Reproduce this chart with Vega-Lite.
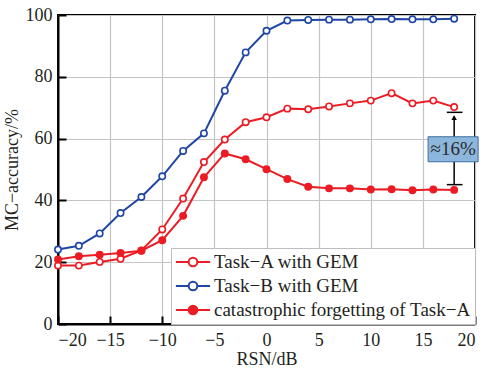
{
  "$schema": "https://vega.github.io/schema/vega-lite/v6.json",
  "width": 417,
  "height": 309,
  "autosize": {"type": "none"},
  "padding": {"left": 58, "top": 15, "right": 8, "bottom": 46},
  "background": "white",
  "config": {
    "font": "Times New Roman, Liberation Serif, serif",
    "view": {"stroke": "black", "strokeWidth": 2},
    "axis": {
      "domainColor": "black", "domainWidth": 2,
      "tickColor": "black", "tickWidth": 2, "tickSize": -8,
      "gridColor": "#c4c4c4", "gridWidth": 1.2,
      "labelFont": "Times New Roman, Liberation Serif, serif", "labelFontSize": 18, "labelColor": "#231f20",
      "titleFont": "Times New Roman, Liberation Serif, serif", "titleFontSize": 18, "titleFontWeight": "normal", "titleColor": "#231f20"
    },
    "legend": {
      "title": null, "orient": "bottom-right", "offset": 0,
      "fillColor": "white", "strokeColor": "#bdbdbd", "padding": 4,
      "labelFont": "Times New Roman, Liberation Serif, serif", "labelFontSize": 19, "labelColor": "#231f20", "labelLimit": 400,
      "symbolType": "M-1.9,0L-0.48,0M0.48,0L1.9,0M-0.48,0A0.48,0.48,0,1,0,0.48,0A0.48,0.48,0,1,0,-0.48,0",
      "symbolSize": 324, "symbolStrokeWidth": 2, "symbolOffset": 8, "rowPadding": 4, "labelOffset": 11
    }
  },
  "datasets": {
    "acc": [
      {"x": -20, "acc": 18.9, "series": "Task−A with GEM"},
      {"x": -18, "acc": 18.9, "series": "Task−A with GEM"},
      {"x": -16, "acc": 20.1, "series": "Task−A with GEM"},
      {"x": -14, "acc": 21.1, "series": "Task−A with GEM"},
      {"x": -12, "acc": 23.8, "series": "Task−A with GEM"},
      {"x": -10, "acc": 30.6, "series": "Task−A with GEM"},
      {"x": -8, "acc": 40.6, "series": "Task−A with GEM"},
      {"x": -6, "acc": 52.4, "series": "Task−A with GEM"},
      {"x": -4, "acc": 59.7, "series": "Task−A with GEM"},
      {"x": -2, "acc": 65.3, "series": "Task−A with GEM"},
      {"x": 0, "acc": 66.9, "series": "Task−A with GEM"},
      {"x": 2, "acc": 69.7, "series": "Task−A with GEM"},
      {"x": 4, "acc": 69.5, "series": "Task−A with GEM"},
      {"x": 6, "acc": 70.4, "series": "Task−A with GEM"},
      {"x": 8, "acc": 71.4, "series": "Task−A with GEM"},
      {"x": 10, "acc": 72.3, "series": "Task−A with GEM"},
      {"x": 12, "acc": 74.7, "series": "Task−A with GEM"},
      {"x": 14, "acc": 71.4, "series": "Task−A with GEM"},
      {"x": 16, "acc": 72.3, "series": "Task−A with GEM"},
      {"x": 18, "acc": 70.2, "series": "Task−A with GEM"},
      {"x": -20, "acc": 24.1, "series": "Task−B with GEM"},
      {"x": -18, "acc": 25.3, "series": "Task−B with GEM"},
      {"x": -16, "acc": 29.3, "series": "Task−B with GEM"},
      {"x": -14, "acc": 35.9, "series": "Task−B with GEM"},
      {"x": -12, "acc": 41.1, "series": "Task−B with GEM"},
      {"x": -10, "acc": 47.8, "series": "Task−B with GEM"},
      {"x": -8, "acc": 56.0, "series": "Task−B with GEM"},
      {"x": -6, "acc": 61.7, "series": "Task−B with GEM"},
      {"x": -4, "acc": 75.5, "series": "Task−B with GEM"},
      {"x": -2, "acc": 87.9, "series": "Task−B with GEM"},
      {"x": 0, "acc": 94.9, "series": "Task−B with GEM"},
      {"x": 2, "acc": 98.2, "series": "Task−B with GEM"},
      {"x": 4, "acc": 98.4, "series": "Task−B with GEM"},
      {"x": 6, "acc": 98.5, "series": "Task−B with GEM"},
      {"x": 8, "acc": 98.5, "series": "Task−B with GEM"},
      {"x": 10, "acc": 98.6, "series": "Task−B with GEM"},
      {"x": 12, "acc": 98.7, "series": "Task−B with GEM"},
      {"x": 14, "acc": 98.6, "series": "Task−B with GEM"},
      {"x": 16, "acc": 98.6, "series": "Task−B with GEM"},
      {"x": 18, "acc": 98.8, "series": "Task−B with GEM"},
      {"x": -20, "acc": 20.9, "series": "catastrophic forgetting of Task−A"},
      {"x": -18, "acc": 21.9, "series": "catastrophic forgetting of Task−A"},
      {"x": -16, "acc": 22.4, "series": "catastrophic forgetting of Task−A"},
      {"x": -14, "acc": 23.0, "series": "catastrophic forgetting of Task−A"},
      {"x": -12, "acc": 23.7, "series": "catastrophic forgetting of Task−A"},
      {"x": -10, "acc": 27.1, "series": "catastrophic forgetting of Task−A"},
      {"x": -8, "acc": 35.0, "series": "catastrophic forgetting of Task−A"},
      {"x": -6, "acc": 47.5, "series": "catastrophic forgetting of Task−A"},
      {"x": -4, "acc": 55.2, "series": "catastrophic forgetting of Task−A"},
      {"x": -2, "acc": 53.3, "series": "catastrophic forgetting of Task−A"},
      {"x": 0, "acc": 50.1, "series": "catastrophic forgetting of Task−A"},
      {"x": 2, "acc": 46.9, "series": "catastrophic forgetting of Task−A"},
      {"x": 4, "acc": 44.4, "series": "catastrophic forgetting of Task−A"},
      {"x": 6, "acc": 43.9, "series": "catastrophic forgetting of Task−A"},
      {"x": 8, "acc": 43.9, "series": "catastrophic forgetting of Task−A"},
      {"x": 10, "acc": 43.5, "series": "catastrophic forgetting of Task−A"},
      {"x": 12, "acc": 43.6, "series": "catastrophic forgetting of Task−A"},
      {"x": 14, "acc": 43.3, "series": "catastrophic forgetting of Task−A"},
      {"x": 16, "acc": 43.5, "series": "catastrophic forgetting of Task−A"},
      {"x": 18, "acc": 43.4, "series": "catastrophic forgetting of Task−A"}
    ]
  },
  "layer": [
    {
      "data": {"name": "acc"},
      "mark": {"type": "line", "strokeWidth": 2},
      "encoding": {
        "x": {"field": "x", "type": "quantitative",
              "scale": {"domain": [-20, 20], "nice": false, "zero": false},
              "axis": {"values": [-20, -15, -10, -5, 0, 5, 10, 15, 20], "title": "RSN/dB", "labelPadding": 15, "titlePadding": 1}},
        "y": {"field": "acc", "type": "quantitative",
              "scale": {"domain": [0, 100], "nice": false},
              "axis": {"values": [0, 20, 40, 60, 80, 100], "title": "MC−accuracy/%", "labelPadding": 14, "titlePadding": 4}},
        "stroke": {"field": "series", "type": "nominal",
                   "scale": {"domain": ["Task−A with GEM", "Task−B with GEM", "catastrophic forgetting of Task−A"],
                             "range": ["#ec1c24", "#1f46a6", "#ec1c24"]}}
      }
    },
    {
      "data": {"name": "acc"},
      "mark": {"type": "point", "filled": false, "size": 40, "strokeWidth": 1.6, "opacity": 1},
      "encoding": {
        "x": {"field": "x", "type": "quantitative"},
        "y": {"field": "acc", "type": "quantitative"},
        "stroke": {"field": "series", "type": "nominal"},
        "fill": {"field": "series", "type": "nominal",
                 "scale": {"domain": ["Task−A with GEM", "Task−B with GEM", "catastrophic forgetting of Task−A"],
                           "range": ["white", "white", "#ec1c24"]}}
      }
    },
    {
      "data": {"values": [{"x": 18, "y": 45.1, "y2": 67.2}]},
      "mark": {"type": "rule", "color": "black", "strokeWidth": 1.5},
      "encoding": {"x": {"field": "x", "type": "quantitative"}, "y": {"field": "y", "type": "quantitative"}, "y2": {"field": "y2"}}
    },
    {
      "data": {"values": [{"x": 17.3, "x2": 18.8, "y": 68.5}, {"x": 17.3, "x2": 18.8, "y": 45.1}]},
      "mark": {"type": "rule", "color": "black", "strokeWidth": 1.5},
      "encoding": {"x": {"field": "x", "type": "quantitative"}, "x2": {"field": "x2"}, "y": {"field": "y", "type": "quantitative"}}
    },
    {
      "data": {"values": [{"x": 18, "y": 66.8}]},
      "mark": {"type": "point", "shape": "triangle-up", "filled": true, "color": "black", "size": 30, "opacity": 1},
      "encoding": {"x": {"field": "x", "type": "quantitative"}, "y": {"field": "y", "type": "quantitative"}}
    },
    {
      "data": {"values": [{"x": 15.5, "x2": 20.3, "y": 52.5, "y2": 60.6}]},
      "mark": {"type": "rect", "fill": "#8db6dc", "stroke": "#3f6f9f", "strokeWidth": 1},
      "encoding": {"x": {"field": "x", "type": "quantitative"}, "x2": {"field": "x2"}, "y": {"field": "y", "type": "quantitative"}, "y2": {"field": "y2"}}
    },
    {
      "data": {"values": [{"x": 17.9, "y": 56.55, "label": "≈16%"}]},
      "mark": {"type": "text", "font": "Times New Roman, Liberation Serif, serif", "fontSize": 19, "color": "#2b2b2b", "baseline": "middle", "align": "center"},
      "encoding": {"x": {"field": "x", "type": "quantitative"}, "y": {"field": "y", "type": "quantitative"}, "text": {"field": "label"}}
    }
  ]
}
